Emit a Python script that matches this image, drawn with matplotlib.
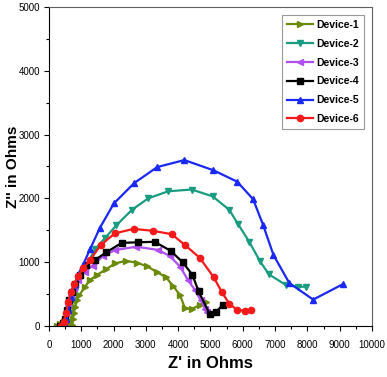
import numpy as np
import matplotlib.pyplot as plt
from matplotlib.ticker import MultipleLocator

plt.rcParams['font.family'] = ['Liberation Sans', 'DejaVu Sans']

# Nyquist data (Z', Z'')
d1_x = [250, 350, 450, 550, 650, 720, 740, 770, 810, 870, 940, 1115, 1269, 1476, 1765, 2043, 2384,
        2715, 3025, 3334, 3622, 3848, 4056, 4211, 4418, 4675, 4861]
d1_y = [0, 30, 55, 60, 40, 10, 100, 200, 300, 400, 481, 611, 716, 795, 884, 978, 1019,
        988, 936, 846, 759, 622, 481, 272, 265, 324, 376]

d2_x = [450, 520, 600, 700, 800, 950, 1150, 1430, 1740, 2090, 2570, 3075, 3690, 4420, 5067, 5580,
        5860, 6200, 6530, 6810, 7340, 7700, 7950]
d2_y = [0, 60, 200, 400, 550, 750, 950, 1200, 1380, 1578, 1820, 2000, 2110, 2138, 2030, 1820,
        1590, 1317, 1014, 806, 638, 612, 612]

d3_x = [330, 400, 480, 540, 600, 680, 780, 900, 1100, 1350, 1660, 2040, 2700, 3380, 3750, 4060,
        4300, 4520, 4700, 4830, 4900]
d3_y = [0, 30, 80, 200, 330, 480, 600, 720, 850, 940, 1090, 1187, 1240, 1190, 1090, 925,
        720, 560, 400, 270, 210]

d4_x = [350, 420, 500, 560, 620, 700, 800, 950, 1150, 1420, 1765, 2250, 2750, 3270, 3770, 4140,
        4440, 4630, 4970, 5180, 5380]
d4_y = [0, 40, 100, 250, 400, 530, 650, 800, 950, 1030, 1150, 1300, 1310, 1317, 1175, 995,
        800, 540, 190, 220, 330]

d5_x = [380, 450, 520, 600, 680, 800, 900, 1050, 1270, 1580, 2010, 2640, 3350, 4190, 5090, 5830,
        6320, 6630, 6950, 7440, 8180, 9090]
d5_y = [0, 50, 100, 250, 450, 650, 800, 950, 1200, 1540, 1920, 2240, 2490, 2600, 2440, 2260,
        1985, 1580, 1110, 670, 410, 650]

d6_x = [380, 450, 530, 600, 680, 780, 900, 1050, 1270, 1600, 2040, 2620, 3210, 3800, 4200, 4670,
        5100, 5346, 5582, 5830, 6068, 6254]
d6_y = [0, 60, 200, 380, 530, 650, 780, 900, 1030, 1265, 1450, 1520, 1490, 1437, 1270, 1065,
        760, 533, 345, 246, 235, 246]

labels = ['Device-1', 'Device-2', 'Device-3', 'Device-4', 'Device-5', 'Device-6']
colors = ['#6b8a0a', '#1a9c80', '#b04ef0', '#000000', '#1a28f5', '#f51a1a']
markers = ['>', 'v', '<', 's', '^', 'o']
xs = [d1_x, d2_x, d3_x, d4_x, d5_x, d6_x]
ys = [d1_y, d2_y, d3_y, d4_y, d5_y, d6_y]

fig = plt.figure(figsize=(3.87, 3.77), dpi=100)
ax = fig.add_axes([0.1266, 0.136, 0.8346, 0.845])

for x, y, c, m, lab in zip(xs, ys, colors, markers, labels):
    ax.plot(x, y, color=c, marker=m, markersize=4.5, linewidth=1.6, label=lab)

ax.set_xlim(0, 10000)
ax.set_ylim(0, 5000)
ax.xaxis.set_major_locator(MultipleLocator(1000))
ax.xaxis.set_minor_locator(MultipleLocator(500))
ax.yaxis.set_major_locator(MultipleLocator(1000))
ax.yaxis.set_minor_locator(MultipleLocator(500))
ax.tick_params(which='major', direction='out', length=3.5, width=0.8, labelsize=7)
ax.tick_params(which='minor', direction='out', length=2, width=0.8)
ax.tick_params(axis='x', which='major', pad=7)
ax.tick_params(axis='y', which='major', pad=3)
for s in ['top', 'right']:
    ax.spines[s].set_color('#606060')

ax.set_xlabel("Z' in Ohms", fontsize=12, fontweight='bold')
ax.xaxis.set_label_coords(0.5, -0.095)
ax.set_ylabel("Z'' in Ohms", fontsize=11, fontweight='bold')
ax.yaxis.set_label_coords(-0.0913, 0.5)

leg = ax.legend(loc='upper right', fontsize=7.5, frameon=True, fancybox=False,
                handlelength=2.5, handletextpad=0.3, borderpad=0.45, labelspacing=0.85,
                borderaxespad=0, bbox_to_anchor=(0.974, 0.975))
leg.get_frame().set_edgecolor('#808080')
leg.get_frame().set_linewidth(0.8)
for t in leg.get_texts():
    t.set_fontweight('bold')

fig.savefig('out.png', dpi=100)
